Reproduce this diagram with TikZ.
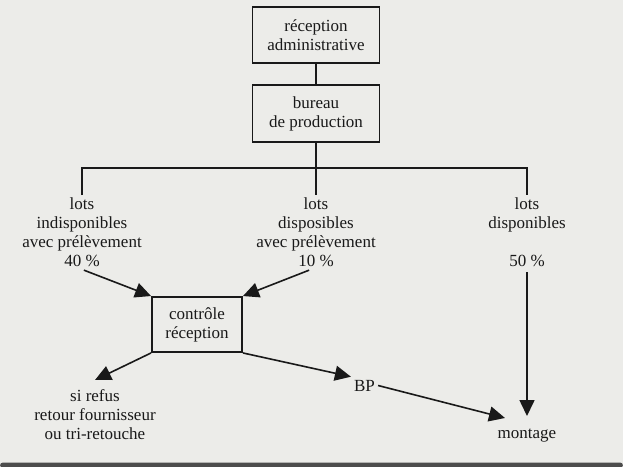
\documentclass[tikz,border=0pt]{standalone}
\usepackage{fontspec}
\setmainfont{Liberation Serif}
\usetikzlibrary{arrows.meta,calc}
\definecolor{paper}{RGB}{236,236,233}
\definecolor{ink}{RGB}{25,25,25}
\begin{document}
\begin{tikzpicture}[x=1pt,y=-1pt,
  lbl/.style={align=center,inner sep=0pt,text=ink,font=\fontsize{17}{19}\selectfont},
  boxnode/.style={lbl,draw=ink,line width=1.9pt},
  conn/.style={draw=ink,line width=1.6pt},
  arr/.style={conn,-{Triangle[length=16pt,width=15pt]}}]
\useasboundingbox (0,0) rectangle (623,466);
\fill[paper] (0,0) rectangle (623,466);
\fill[black!70,rounded corners=3pt] (0,462.5) rectangle (623,468);
% boxes
\node[boxnode,minimum width=127pt,minimum height=56pt] (rec) at (316,35) {réception\\administrative};
\node[boxnode,minimum width=127pt,minimum height=57pt] (bur) at (316,113.5) {bureau\\de production};
\node[boxnode,minimum width=90pt,minimum height=55pt] (ctrl) at (197,324.5) {contrôle\\réception};
% texts
\node[lbl,anchor=north,inner ysep=2.5pt] (lt) at (82,195) {lots\\indisponibles\\avec prélèvement\\40 \%};
\node[lbl,anchor=north,inner ysep=2.5pt] (mt) at (316,195) {lots\\disposibles\\avec prélèvement\\10 \%};
\node[lbl,anchor=north,inner ysep=2.5pt] (rt) at (527,195) {lots\\disponibles\\[19pt]50 \%};
\node[lbl,anchor=north,inner ysep=9pt] (rf) at (95,380) {si refus\\retour fournisseur\\ou tri-retouche};
\node[lbl,inner sep=3pt] (bp) at (364.5,385.5) {BP};
\node[lbl,anchor=north,inner ysep=13pt] (mont) at (527,416) {montage};
\coordinate (bar) at (316,168);
% connectors
\draw[conn] (rec) -- (bur);
\draw[conn] (bur.south) -- (mt.north);
\draw[conn] (lt.north) |- (bar) -| (rt.north);
\draw[arr,shorten <=2pt] (lt.south) -- (ctrl.north west);
\draw[arr,shorten <=2pt] ($(mt.south)+(-5,0)$) -- (ctrl.north east);
\draw[arr] (ctrl.south west) -- (rf.north);
\draw[arr] (ctrl.south east) -- (bp.north west);
\draw[arr] (bp.east) -- ($(mont.north)+(-22,2)$);
\draw[arr,shorten <=3pt] (rt.south) -- (mont.north);
\end{tikzpicture}
\end{document}
